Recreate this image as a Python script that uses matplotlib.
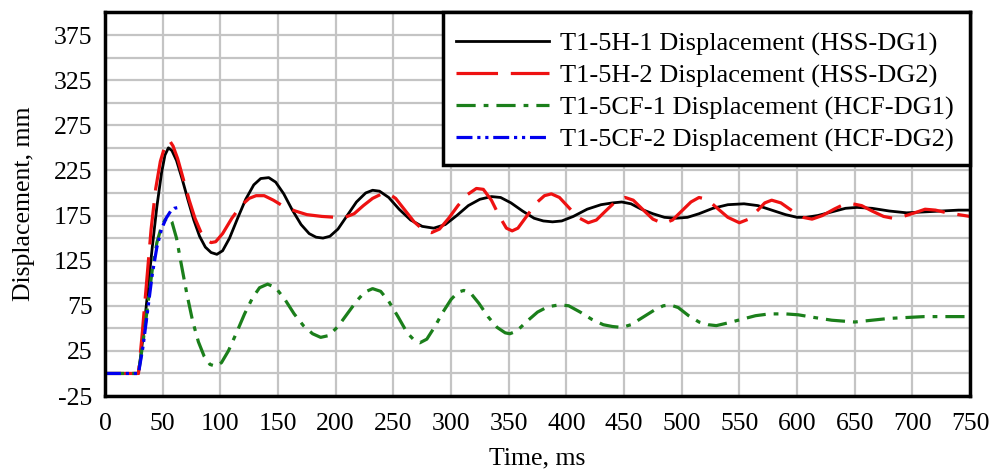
import matplotlib
matplotlib.use('Agg')
import matplotlib.pyplot as plt
from matplotlib.patches import Rectangle
import numpy as np

plt.rcParams['font.family'] = ['Liberation Serif', 'DejaVu Serif']
plt.rcParams['axes.unicode_minus'] = False

# values (time in ms, displacement in mm)
t_hss1 = [0, 29, 33, 37, 41, 45, 49, 52, 55, 58, 62, 67, 72, 77, 82, 87, 92, 97, 102, 108,
          115, 122, 129, 135, 142, 148, 155, 162, 170, 177, 183, 189, 195, 202, 210, 218,
          226, 232, 238, 246, 255, 265, 275, 285, 295, 305, 315, 325, 335, 343, 352, 362,
          372, 380, 388, 396, 406, 418, 430, 440, 448, 456, 465, 475, 485, 495, 505, 515,
          527, 540, 554, 566, 578, 590, 600, 608, 618, 630, 642, 652, 665, 680, 695, 710,
          725, 740, 750]
d_hss1 = [0, 0, 40, 90, 140, 185, 222, 242, 250, 247, 236, 215, 192, 170, 152, 140, 134, 132,
          136, 150, 172, 193, 209, 216, 217, 212, 199, 182, 165, 155, 151, 150, 152, 160, 175,
          190, 200, 203, 202, 195, 182, 170, 163, 161, 165, 175, 186, 193, 196, 195, 189, 180,
          172, 169, 168, 169, 174, 182, 187, 189, 190, 188, 182, 177, 173, 172, 173, 177, 183,
          187, 188, 186, 181, 176, 173, 173, 175, 179, 183, 184, 183, 180, 178, 179, 180, 181,
          181]

t_hss2 = [0, 29, 32, 36, 40, 44, 48, 52, 56, 59, 63, 68, 73, 78, 83, 88, 92, 96, 102, 110,
          118, 125, 131, 138, 146, 155, 165, 175, 188, 200, 208, 216, 224, 232, 240, 246, 252,
          260, 268, 276, 283, 290, 298, 306, 314, 322, 328, 335, 342, 348, 353, 358, 366, 374,
          381, 387, 394, 402, 410, 419, 426, 434, 443, 451, 458, 466, 475, 484, 492, 500, 508,
          515, 522, 530, 540, 550, 558, 566, 572, 578, 586, 596, 605, 613, 622, 632, 640, 648,
          656, 665, 675, 683, 692, 702, 711, 720, 730, 740, 750]
d_hss2 = [0, 0, 40, 100, 160, 205, 235, 252, 258, 252, 238, 215, 192, 172, 157, 148, 145, 146,
          155, 172, 186, 194, 197, 197, 192, 185, 180, 176, 174, 173, 173, 177, 186, 194, 199,
          199, 194, 181, 168, 159, 156, 160, 172, 186, 198, 205, 204, 192, 174, 161, 158, 161,
          175, 189, 197, 199, 195, 184, 173, 167, 170, 180, 191, 195, 192, 182, 171, 166, 170,
          180, 190, 195, 193, 184, 173, 167, 171, 181, 189, 192, 189, 180, 173, 171, 175, 182,
          187, 188, 186, 180, 174, 172, 174, 178, 182, 181, 178, 176, 174]

t_hcf1 = [0, 29, 33, 37, 41, 45, 49, 52, 55, 58, 62, 66, 71, 76, 81, 86, 91, 96, 101, 107,
          114, 121, 128, 134, 141, 148, 156, 164, 172, 180, 187, 194, 202, 210, 218, 225, 232,
          239, 246, 254, 262, 268, 273, 279, 286, 293, 300, 306, 311, 317, 324, 332, 340, 347,
          351, 357, 366, 375, 384, 394, 402, 412, 422, 432, 440, 448, 456, 466, 476, 484, 490,
          497, 506, 515, 523, 530, 540, 552, 564, 576, 590, 601, 615, 630, 640, 650, 665, 680,
          695, 710, 730, 750]
d_hcf1 = [0, 0, 35, 75, 115, 145, 163, 170, 173, 168, 150, 122, 88, 58, 35, 19, 10, 8, 12, 25,
          45, 66, 84, 95, 99, 95, 82, 66, 53, 44, 40, 42, 52, 66, 80, 90, 94, 91, 80, 63, 45,
          37, 34, 38, 52, 68, 82, 90, 92, 89, 78, 63, 51, 45, 44, 47, 58, 68, 74, 76, 75, 68,
          60, 54, 52, 51, 54, 62, 70, 75, 76, 73, 64, 57, 54, 53, 56, 60, 64, 66, 66, 65, 62,
          59, 58, 57, 59, 61, 62, 63, 63, 63]

t_hcf2 = [0, 29, 33, 37, 41, 45, 49, 53, 57, 60, 64]
d_hcf2 = [0, 0, 30, 70, 110, 140, 160, 172, 180, 183, 184]

labels = ['T1-5H-1 Displacement (HSS-DG1)',
          'T1-5H-2 Displacement (HSS-DG2)',
          'T1-5CF-1 Displacement (HCF-DG1)',
          'T1-5CF-2 Displacement (HCF-DG2)']

fig = plt.figure(figsize=(9.97, 4.71), dpi=100)
ax = fig.add_axes([0.1053, 0.1592, 0.8677, 0.8143])

ax.plot(t_hss1, d_hss1, color='black', lw=2.0, label=labels[0])
ax.plot(t_hss2, d_hss2, color='#ee1111', lw=2.3, dashes=(13, 4), label=labels[1])
ax.plot(t_hcf1, d_hcf1, color='#1b7f1b', lw=2.3, dashes=(6, 2.5, 1.5, 2.5), label=labels[2])
ax.plot(t_hcf2, d_hcf2, color='#0000ee', lw=2.3, dashes=(5, 1.5, 1, 1.5, 1, 1.5), label=labels[3])

ax.set_xlim(0, 750)
ax.set_ylim(-25, 400)
ax.set_xticks(np.arange(0, 751, 50))
ax.set_yticks(np.arange(-25, 376, 50))
ax.set_yticks(np.arange(0, 401, 50), minor=True)
ax.grid(True, which='both', color='#c4c4c4', lw=1.6)
ax.set_axisbelow(True)
ax.tick_params(which='both', length=0, labelsize=18.5)
ax.tick_params(axis='x', pad=12)
ax.tick_params(axis='y', pad=9)

for s in ax.spines.values():
    s.set_linewidth(2.5)

ax.set_xlabel('Time, ms', fontsize=18.5, labelpad=9)
ax.set_ylabel('Displacement, mm', fontsize=18.5, labelpad=14)

# legend box (drawn separately so it can hug the handles on the left)
box = Rectangle((0.3908, 0.6023), 1 - 0.3908, 1 - 0.6023, transform=ax.transAxes,
                facecolor='white', edgecolor='black', lw=2.5, zorder=5, clip_on=False)
ax.add_patch(box)
leg = ax.legend(loc='upper left', bbox_to_anchor=(0.406, 0.950), borderaxespad=0,
                borderpad=0, fontsize=19, frameon=False, handlelength=3.5,
                handletextpad=0.45, labelspacing=0.31)
leg.set_zorder(6)

plt.savefig('out.png', dpi=100)
plt.close()
